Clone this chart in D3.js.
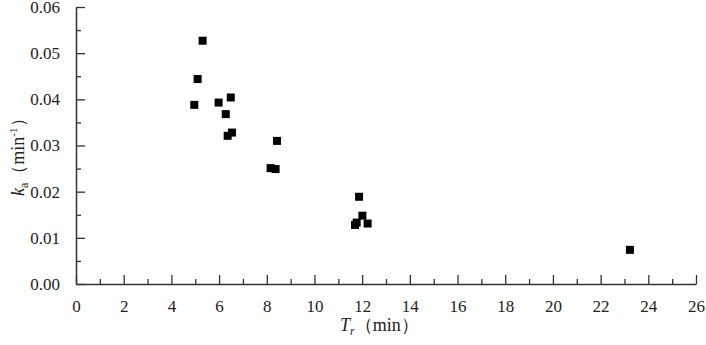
<!DOCTYPE html>
<html>
<head>
<meta charset="utf-8">
<title>ka vs Tr</title>
<script src="https://d3js.org/d3.v7.min.js"></script>
<style>
body { margin: 0; background: #fff; }
text { font-family: "Liberation Serif", "Times New Roman", serif; fill: #222; }
</style>
</head>
<body>
<svg id="chart" width="706" height="345"></svg>
<script>
// values
const tr = [5.31, 5.10, 4.96, 5.98, 6.49, 6.28, 6.36, 6.54, 8.43, 8.16, 8.37, 11.87, 12.01, 11.77, 11.70, 12.23, 23.23];
const ka = [0.0527, 0.0444, 0.0388, 0.0393, 0.0404, 0.0368, 0.0321, 0.0328, 0.0310, 0.0251, 0.0249, 0.0189, 0.0148, 0.0133, 0.0128, 0.0131, 0.0074];
const xTicks = [0, 2, 4, 6, 8, 10, 12, 14, 16, 18, 20, 22, 24, 26];
const yTicks = [0, 0.01, 0.02, 0.03, 0.04, 0.05, 0.06];

const svg = d3.select("#chart");
const W = +svg.attr("width"), H = +svg.attr("height");
const M = {left: 76, top: 7, right: 10, bottom: 61};
const AX = "#333";

const x = d3.scaleLinear().domain([0, 26]).range([M.left, W - M.right]);
const y = d3.scaleLinear().domain([0, 0.06]).range([H - M.bottom, M.top]);

// minor ticks first, no labels
svg.append("g")
   .attr("transform", `translate(0,${H - M.bottom})`)
   .call(d3.axisBottom(x).tickValues(d3.range(1, 26, 2)).tickSize(-5).tickFormat(""))
   .call(g => g.select(".domain").remove());
svg.append("g")
   .attr("transform", `translate(${M.left},0)`)
   .call(d3.axisLeft(y).tickValues(d3.range(0.005, 0.06, 0.01)).tickSize(-5).tickFormat(""))
   .call(g => g.select(".domain").remove());

const xAxis = svg.append("g")
   .attr("transform", `translate(0,${H - M.bottom})`)
   .call(d3.axisBottom(x).tickValues(xTicks).tickSize(-9).tickSizeOuter(0).tickPadding(16).tickFormat(d3.format("d")));
const yAxis = svg.append("g")
   .attr("transform", `translate(${M.left},0)`)
   .call(d3.axisLeft(y).tickValues(yTicks).tickSize(-9).tickSizeOuter(0).tickPadding(16).tickFormat(d3.format(".2f")));

svg.selectAll(".tick line").attr("stroke", AX).attr("stroke-width", 1.3);
svg.selectAll(".domain").attr("stroke", AX).attr("stroke-width", 1.5);
svg.selectAll(".tick text")
   .attr("font-family", "Liberation Serif, Times New Roman, serif")
   .attr("font-size", 17).attr("fill", "#222");

// points
svg.append("g").selectAll("rect")
   .data(tr.map((d, i) => [d, ka[i]]))
   .enter().append("rect")
   .attr("x", d => x(d[0]) - 4)
   .attr("y", d => y(d[1]) - 4)
   .attr("width", 8).attr("height", 8)
   .attr("fill", "#000");

// axis titles
const xt = svg.append("text")
   .attr("x", 340).attr("y", 331)
   .attr("font-size", 18);
xt.append("tspan").attr("font-style", "italic").text("T");
xt.append("tspan").attr("font-style", "italic").attr("font-size", 12).attr("dy", 4).text("r");
xt.append("tspan").attr("dy", -4).text("（min）");

const yt = svg.append("text")
   .attr("transform", "translate(24,196) rotate(-90)")
   .attr("font-size", 18);
yt.append("tspan").attr("font-style", "italic").text("k");
yt.append("tspan").attr("font-size", 12).attr("dy", 4).text("a");
yt.append("tspan").attr("dy", -4).text("（min");
yt.append("tspan").attr("font-size", 11).attr("dy", -7).text("-1");
yt.append("tspan").attr("dy", 7).text("）");
</script>
</body>
</html>
